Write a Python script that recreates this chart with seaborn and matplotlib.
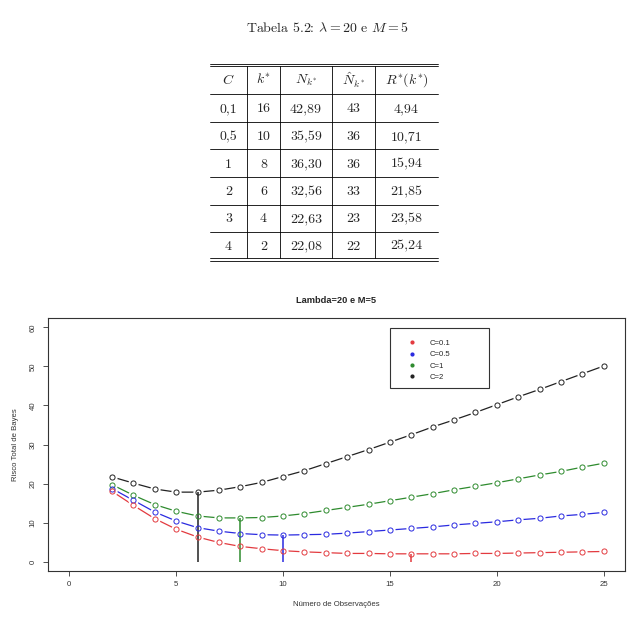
import numpy as np
import pandas as pd
import seaborn as sns
import matplotlib.pyplot as plt
from matplotlib.lines import Line2D
from matplotlib.patches import Rectangle

# tabela 5.2
tab_head = ['$C$', '$k^{*}$', '$N_{k^{*}}$', '$\\hat{N}_{k^{*}}$', '$R^{*}(k^{*})$']
tab_C = ['0,1', '0,5', '1', '2', '3', '4']
tab_k = ['16', '10', '8', '6', '4', '2']
tab_N = ['42,89', '35,59', '36,30', '32,56', '22,63', '22,08']
tab_Nhat = ['43', '36', '36', '33', '23', '22']
tab_R = ['4,94', '10,71', '15,94', '21,85', '23,58', '25,24']

# grafico: risco total de Bayes por numero de observacoes
obs = [2, 3, 4, 5, 6, 7, 8, 9, 10, 11, 12, 13, 14, 15, 16, 17, 18, 19, 20, 21, 22, 23, 24, 25]
risco_01 = [18.0, 14.4, 11.0, 8.3, 6.3, 4.9, 3.9, 3.3, 2.8, 2.5, 2.3, 2.1,
            2.1, 2.0, 2.0, 2.0, 2.0, 2.1, 2.1, 2.2, 2.3, 2.4, 2.5, 2.6]
risco_05 = [18.7, 15.7, 12.7, 10.4, 8.7, 7.8, 7.2, 6.9, 6.8, 6.9, 7.0, 7.3,
            7.7, 8.1, 8.5, 8.9, 9.4, 9.8, 10.2, 10.7, 11.1, 11.7, 12.1, 12.6]
risco_1 = [19.7, 17.0, 14.6, 12.9, 11.7, 11.2, 11.2, 11.3, 11.7, 12.3, 13.1, 13.9,
           14.7, 15.6, 16.5, 17.4, 18.4, 19.3, 20.2, 21.2, 22.2, 23.1, 24.2, 25.2]
risco_2 = [21.7, 20.1, 18.6, 17.8, 17.8, 18.3, 19.2, 20.3, 21.8, 23.3, 25.1, 26.9,
           28.7, 30.6, 32.5, 34.5, 36.3, 38.2, 40.2, 42.2, 44.1, 46.1, 48.1, 50.1]
rotulos = ['C=0.1', 'C=0.5', 'C=1', 'C=2']
k_star = [16, 10, 8, 6]
cores = ['#e33a3f', '#2a2ae0', '#2e8b2e', '#222222']

sns.set_style('white')
plt.rcParams['font.family'] = ['Liberation Sans', 'DejaVu Sans']
plt.rcParams['mathtext.fontset'] = 'cm'

W, H = 634, 642
fig = plt.figure(figsize=(W / 100, H / 100), dpi=100)


def fx(x):
    return x / W


def fy(y):
    return 1 - y / H


# ---- tabela (LaTeX) ----
fig.text(fx(327), fy(28), 'Tabela 5.2: $\\lambda = 20$ e $M = 5$', family='cmr10',
         fontsize=10, ha='center', va='center')

tx0, tx1 = 210, 438
col_x = [228.5, 263.5, 306, 353.5, 406.5]
sep_x = [247, 280, 332, 375]
row_y = [80, 108, 135.5, 163, 190.5, 218, 245]
hlines_y = [94, 121.7, 149.3, 177, 204.5, 231.7]
for y in [63.8, 66.3, 258.3, 260.8] + hlines_y:
    fig.add_artist(Line2D([fx(tx0), fx(tx1)], [fy(y), fy(y)], transform=fig.transFigure,
                          color='black', lw=0.6))
for x in sep_x:
    fig.add_artist(Line2D([fx(x), fx(x)], [fy(66.3), fy(258.3)], transform=fig.transFigure,
                          color='black', lw=0.6))

for j, h in enumerate(tab_head):
    fig.text(fx(col_x[j]), fy(row_y[0]), h, fontsize=10, ha='center', va='center')
colunas = [tab_C, tab_k, tab_N, tab_Nhat, tab_R]
for j, col in enumerate(colunas):
    for i, v in enumerate(col):
        fig.text(fx(col_x[j]), fy(row_y[i + 1] + 4.5), v, family='cmr10', fontsize=10,
                 ha='center', va='baseline')

# ---- grafico ----
ax = fig.add_axes([fx(48), fy(571), fx(625) - fx(48), fy(318) - fy(571)])

series = [risco_01, risco_05, risco_1, risco_2]
df = pd.DataFrame({
    'obs': obs * 4,
    'risco': risco_01 + risco_05 + risco_1 + risco_2,
    'C': [r for r in rotulos for _ in obs],
})

# desenha do C=2 para C=0.1 (tipo "b" do R: linhas com falhas nos pontos)
for i in [3, 2, 1, 0]:
    sub = df[df['C'] == rotulos[i]]
    sns.lineplot(data=sub, x='obs', y='risco', color=cores[i], lw=0.9, ax=ax, zorder=2)
    sns.lineplot(data=sub, x='obs', y='risco', color='white', ls='', marker='o', ms=7.4,
                 mfc='white', mec='white', mew=0, ax=ax, zorder=3)
    sns.lineplot(data=sub, x='obs', y='risco', color=cores[i], ls='', marker='o', ms=3.7,
                 mfc='none', mec=cores[i], mew=0.7, ax=ax, zorder=5)

# linhas verticais no minimo k*
for i in range(4):
    ymax = series[i][obs.index(k_star[i])]
    ax.vlines(k_star[i], 0, ymax, color=cores[i], lw=1.1, zorder=4)

ax.set_xlim(-1, 26)
ax.set_ylim(-2.4, 62.4)
ax.set_xticks([0, 5, 10, 15, 20, 25])
ax.set_yticks([0, 10, 20, 30, 40, 50, 60])
ax.set_yticklabels(['0', '10', '20', '30', '40', '50', '60'], rotation=90, va='center')
ax.tick_params(axis='both', bottom=True, left=True, direction='out', length=3.6, width=0.6,
               labelsize=5.6, colors='#333333')
ax.tick_params(axis='x', pad=3.5)
ax.tick_params(axis='y', pad=4.5)
for s in ax.spines.values():
    s.set_visible(True)
    s.set_color('#333333')
    s.set_linewidth(0.8)

ax.set_xlabel('Número de Observações', fontsize=5.6, color='#333333')
ax.set_ylabel('Risco Total de Bayes', fontsize=5.6, color='#333333')
ax.xaxis.set_label_coords(0.5, -0.117)
ax.yaxis.set_label_coords(-0.051, 0.5)
ax.set_title('Lambda=20 e M=5', fontsize=6.7, fontweight='bold', pad=10.5)

# legenda
ax.add_patch(Rectangle((0.5927, 0.7233), 0.7643 - 0.5927, 0.9605 - 0.7233,
                       transform=ax.transAxes, fill=False, ec='#333333', lw=0.8, zorder=6))
handles = [Line2D([], [], ls='', marker='o', ms=2.0, color=c) for c in cores]
ax.legend(handles, rotulos, loc='upper left', bbox_to_anchor=(0.6118, 0.942), frameon=False,
          fontsize=5.6, handlelength=1.0, handletextpad=1.8, labelspacing=0.5, borderpad=0.4)

fig.savefig('out.png', dpi=100)
